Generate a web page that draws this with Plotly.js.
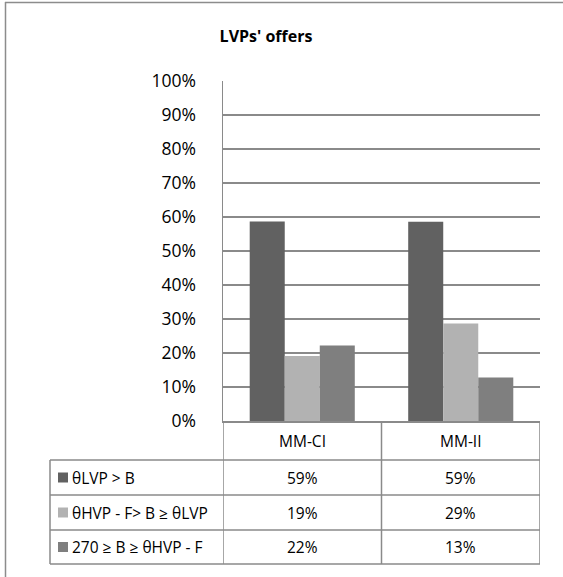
<!DOCTYPE html>
<html>
<head>
<meta charset="utf-8">
<script src="https://cdn.plot.ly/plotly-3.0.1.min.js"></script>
<style>html,body{margin:0;padding:0;background:#fff;overflow:hidden;}#chart{width:563px;height:577px;}</style>
</head>
<body>
<div id="chart"></div>
<script>
// ---- data ----
var categories = ['MM-CI', 'MM-II'];
var seriesNames = ['θLVP > B', 'θHVP - F> B ≥ θLVP', '270 ≥ B ≥ θHVP - F'];
var seriesValues = [
  [0.587, 0.586],
  [0.191, 0.287],
  [0.222, 0.128]
];
var seriesColors = ['#616161', '#b2b2b2', '#7f7f7f'];
var yTickVals = [0, 0.1, 0.2, 0.3, 0.4, 0.5, 0.6, 0.7, 0.8, 0.9, 1.0];
var titleText = "LVPs' offers";

// ---- layout geometry (pixels) ----
var W = 563, H = 577;
var L = 223, R = 540, T = 81, B = 421;
var pw = R - L, ph = B - T;
function px(p) { return (p - L) / pw; }   // pixel x -> paper x
function py(p) { return (B - p) / ph; }   // pixel y -> paper y

var gridCol = '#8a8a8a';
var fontFam = 'Open Sans, Lato, Liberation Sans, sans-serif';
var cellSize = 15.5;

var traces = seriesNames.map(function (n, i) {
  return {
    type: 'bar', name: n, x: categories, y: seriesValues[i],
    marker: { color: seriesColors[i], line: { width: 0 } },
    hoverinfo: 'skip'
  };
});

var rowLines = [460, 495, 530, 564];
var shapes = [];
// outer chart border (left and top edges)
shapes.push({ type: 'line', xref: 'paper', yref: 'paper', x0: px(5.5), x1: px(5.5), y0: py(2), y1: py(H),
  line: { color: '#8c8c8c', width: 1.5 } });
shapes.push({ type: 'line', xref: 'paper', yref: 'paper', x0: px(5), x1: px(W), y0: py(2.5), y1: py(2.5),
  line: { color: '#8c8c8c', width: 1.5 } });
// table horizontal lines
rowLines.forEach(function (yy) {
  shapes.push({ type: 'line', xref: 'paper', yref: 'paper', x0: px(50), x1: px(R), y0: py(yy), y1: py(yy),
    line: { color: gridCol, width: 1.5 } });
});
// table vertical lines
[-0.5, 0.5, 1.5].forEach(function (xx) {
  shapes.push({ type: 'line', xref: 'x', yref: 'paper', x0: xx, x1: xx, y0: py(B), y1: py(564),
    line: { color: gridCol, width: 1.5 } });
});
shapes.push({ type: 'line', xref: 'paper', yref: 'paper', x0: px(50), x1: px(50), y0: py(460), y1: py(564),
  line: { color: gridCol, width: 1.5 } });

var annotations = [];
categories.forEach(function (c) {
  annotations.push({ xref: 'x', yref: 'paper', x: c, y: py((B + 460) / 2), text: c, showarrow: false,
    xanchor: 'center', yanchor: 'middle', font: { family: fontFam, size: cellSize, color: '#000' } });
});
seriesNames.forEach(function (n, i) {
  var top = rowLines[i], bot = rowLines[i + 1];
  var mid = (top + bot) / 2;
  shapes.push({ type: 'rect', xref: 'paper', yref: 'paper', x0: px(58), x1: px(68), y0: py(mid - 5), y1: py(mid + 5),
    line: { width: 0 }, fillcolor: seriesColors[i] });
  annotations.push({ xref: 'paper', yref: 'paper', x: px(70), y: py(mid), text: n, showarrow: false,
    xanchor: 'left', yanchor: 'middle', font: { family: fontFam, size: cellSize, color: '#000' } });
  categories.forEach(function (c, j) {
    annotations.push({ xref: 'x', yref: 'paper', x: c, y: py(mid), text: Math.round(seriesValues[i][j] * 100) + '%',
      showarrow: false, xanchor: 'center', yanchor: 'middle', font: { family: fontFam, size: cellSize, color: '#000' } });
  });
});

var layout = {
  width: W, height: H,
  margin: { l: L, r: W - R, t: T, b: H - B, pad: 0 },
  paper_bgcolor: '#fff', plot_bgcolor: '#fff',
  title: { text: '<b>' + titleText + '</b>', x: 266 / W, xanchor: 'center', y: 1 - 36 / H, yanchor: 'middle',
    font: { family: fontFam, size: 16, color: '#000' } },
  showlegend: false,
  barmode: 'group', bargap: 0.337, bargroupgap: 0,
  xaxis: { type: 'category', range: [-0.5, 1.5], showticklabels: false, ticks: '', showgrid: false,
    showline: true, linecolor: gridCol, linewidth: 1.5, zeroline: false, fixedrange: true },
  yaxis: { range: [0, 1], tickvals: yTickVals, tickformat: '.0%', showgrid: true, gridcolor: gridCol, gridwidth: 1.5,
    showline: true, linecolor: gridCol, linewidth: 1.5, zeroline: false, ticks: '', ticklabelstandoff: 22,
    tickfont: { family: fontFam, size: 17.5, color: '#000' }, fixedrange: true },
  shapes: shapes,
  annotations: annotations
};

Plotly.newPlot('chart', traces, layout, { staticPlot: true, displayModeBar: false });
</script>
</body>
</html>
